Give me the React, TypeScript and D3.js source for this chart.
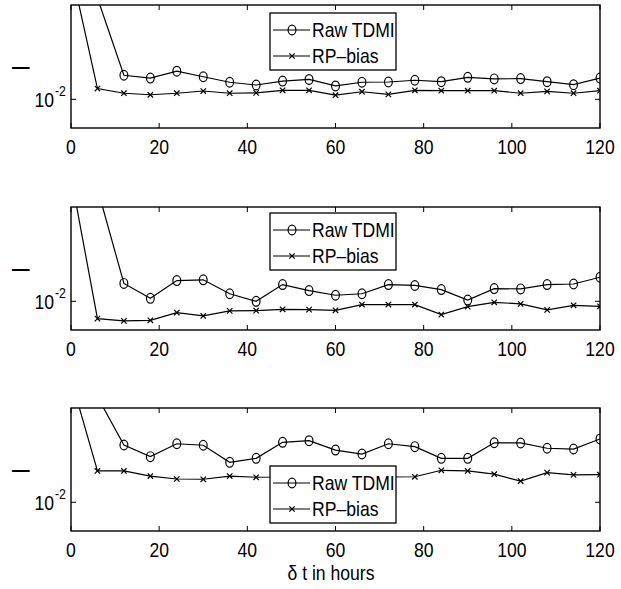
import React from "react";
import * as d3 from "d3";

const hours = [0, 6, 12, 18, 24, 30, 36, 42, 48, 54, 60, 66, 72, 78, 84, 90, 96, 102, 108, 114, 120];

const raw1 = [0.621, 0.103, 0.0174, 0.0163, 0.0191, 0.0168, 0.0148, 0.0139, 0.0152, 0.0158, 0.0136, 0.0148, 0.0149, 0.0155, 0.015, 0.0166, 0.016, 0.0161, 0.015, 0.014, 0.0163];
const rp1 = [0.201, 0.0128, 0.0115, 0.0111, 0.0115, 0.0121, 0.0115, 0.0116, 0.0123, 0.0123, 0.011, 0.0119, 0.0112, 0.0123, 0.0122, 0.0122, 0.0122, 0.0115, 0.012, 0.0115, 0.0122];

const raw2 = [1.18, 0.134, 0.0151, 0.0107, 0.0161, 0.0164, 0.0119, 0.01, 0.0147, 0.0128, 0.0115, 0.0119, 0.0147, 0.0144, 0.0131, 0.0103, 0.0134, 0.0133, 0.0147, 0.0149, 0.0174];
const rp2 = [0.178, 0.00671, 0.00637, 0.00646, 0.00771, 0.00714, 0.00802, 0.00807, 0.00832, 0.00826, 0.00813, 0.00927, 0.00927, 0.00927, 0.00736, 0.00885, 0.00977, 0.00942, 0.0082, 0.00912, 0.00891];

const raw3 = [0.344, 0.1135, 0.0374, 0.0286, 0.0385, 0.0372, 0.0251, 0.0275, 0.0398, 0.0413, 0.0333, 0.0304, 0.0385, 0.036, 0.0275, 0.0275, 0.0394, 0.0392, 0.0347, 0.0341, 0.043];
const rp3 = [0.172, 0.0206, 0.0206, 0.0183, 0.0171, 0.017, 0.0183, 0.0178, 0.0179, 0.0183, 0.0179, 0.0175, 0.0179, 0.018, 0.0209, 0.0206, 0.0191, 0.0163, 0.0198, 0.0188, 0.0189];

const xTicks = [0, 20, 40, 60, 80, 100, 120];
const yTick = 0.01;
const seriesNames = ["Raw TDMI", "RP\u2013bias"];
const xLabel = "\u03b4 t in hours";

const panelsData = [
  { raw: raw1, rp: rp1 },
  { raw: raw2, rp: rp2 },
  { raw: raw3, rp: rp3 },
];

const FONT = "'Liberation Sans', Arial, Helvetica, sans-serif";
const SQ = 0.88;
const X0 = 71;
const X1 = 600;
const PH = 123;
const panelTops = [5, 207, 408];
const legendTops = [13, 213, 466];
const LW = 126;
const LH = 57;
const LX = 270;

function NText({
  x,
  y,
  size,
  anchor,
  weight,
  children,
}: {
  x: number;
  y: number;
  size: number;
  anchor?: string;
  weight?: string;
  children: React.ReactNode;
}) {
  return (
    <text
      transform={`translate(${x},${y}) scale(${SQ},1)`}
      textAnchor={anchor || "start"}
      fontFamily={FONT}
      fontSize={size}
      fontWeight={weight || "normal"}
      fill="#000"
    >
      {children}
    </text>
  );
}

function Marker({ kind, x, y }: { kind: string; x: number; y: number }) {
  if (kind === "o") {
    return <ellipse cx={x} cy={y} rx={3.9} ry={4.9} fill="none" stroke="#000" strokeWidth={1.2} />;
  }
  const s = 2.7;
  return (
    <path
      d={`M${x - s},${y - s}L${x + s},${y + s}M${x - s},${y + s}L${x + s},${y - s}`}
      stroke="#000"
      strokeWidth={1.2}
      fill="none"
    />
  );
}

function Panel({ idx }: { idx: number }) {
  const top = panelTops[idx];
  const bottom = top + PH;
  const { raw, rp } = panelsData[idx];
  const x = d3.scaleLinear().domain([0, 120]).range([X0, X1]);
  const y = d3
    .scaleLog()
    .domain([Math.pow(10, -2.287), Math.pow(10, -1.057)])
    .range([bottom, top]);
  const line = d3
    .line<number>()
    .x((_, i) => x(hours[i]))
    .y((v) => y(v));
  const clipId = `clip${idx}`;
  const ly = legendTops[idx];
  const ty = y(yTick);
  return (
    <g>
      <defs>
        <clipPath id={clipId}>
          <rect x={X0} y={top} width={X1 - X0} height={PH} />
        </clipPath>
      </defs>
      <rect x={X0} y={top} width={X1 - X0} height={PH} fill="#fff" stroke="none" />
      <g clipPath={`url(#${clipId})`}>
        <path d={line(raw) || ""} fill="none" stroke="#000" strokeWidth={1.2} />
        <path d={line(rp) || ""} fill="none" stroke="#000" strokeWidth={1.2} />
        {raw.map((v, i) => (
          <Marker key={"r" + i} kind="o" x={x(hours[i])} y={y(v)} />
        ))}
        {rp.map((v, i) => (
          <Marker key={"p" + i} kind="x" x={x(hours[i])} y={y(v)} />
        ))}
      </g>
      {xTicks.map((t) => (
        <g key={t}>
          <line x1={x(t)} x2={x(t)} y1={bottom} y2={bottom - 5} stroke="#000" strokeWidth={1} />
          <line x1={x(t)} x2={x(t)} y1={top} y2={top + 5} stroke="#000" strokeWidth={1} />
          <NText x={x(t)} y={bottom + 26} size={20} anchor="middle">
            {t}
          </NText>
        </g>
      ))}
      <line x1={X0} x2={X0 + 5} y1={ty} y2={ty} stroke="#000" strokeWidth={1} />
      <line x1={X1} x2={X1 - 5} y1={ty} y2={ty} stroke="#000" strokeWidth={1} />
      <NText x={54} y={ty + 8} size={20} anchor="end">
        10
      </NText>
      <NText x={55} y={ty - 3} size={14}>
        -2
      </NText>
      <NText x={12} y={top + 68} size={20} weight="bold">
        {"\u2014"}
      </NText>
      <rect x={X0} y={top} width={X1 - X0} height={PH} fill="none" stroke="#000" strokeWidth={1.4} />
      <g>
        <rect x={LX} y={ly} width={LW} height={LH} fill="#fff" stroke="#000" strokeWidth={1.3} />
        {seriesNames.map((name, i) => {
          const ry = ly + 17 + i * 26;
          return (
            <g key={name}>
              <line x1={LX + 3} x2={LX + 40} y1={ry} y2={ry} stroke="#000" strokeWidth={1.2} />
              <Marker kind={i === 0 ? "o" : "x"} x={LX + 22} y={ry} />
              <NText x={LX + 42} y={ry + 7} size={20}>
                {name}
              </NText>
            </g>
          );
        })}
      </g>
    </g>
  );
}

export default function App() {
  return (
    <svg
      width={621}
      height={589}
      style={{ position: "absolute", left: 0, top: 0, background: "#fff" }}
    >
      <rect x={0} y={0} width={621} height={589} fill="#fff" />
      {panelTops.map((_, i) => (
        <Panel key={i} idx={i} />
      ))}
      <NText x={331} y={580} size={20} anchor="middle">
        {xLabel}
      </NText>
    </svg>
  );
}
